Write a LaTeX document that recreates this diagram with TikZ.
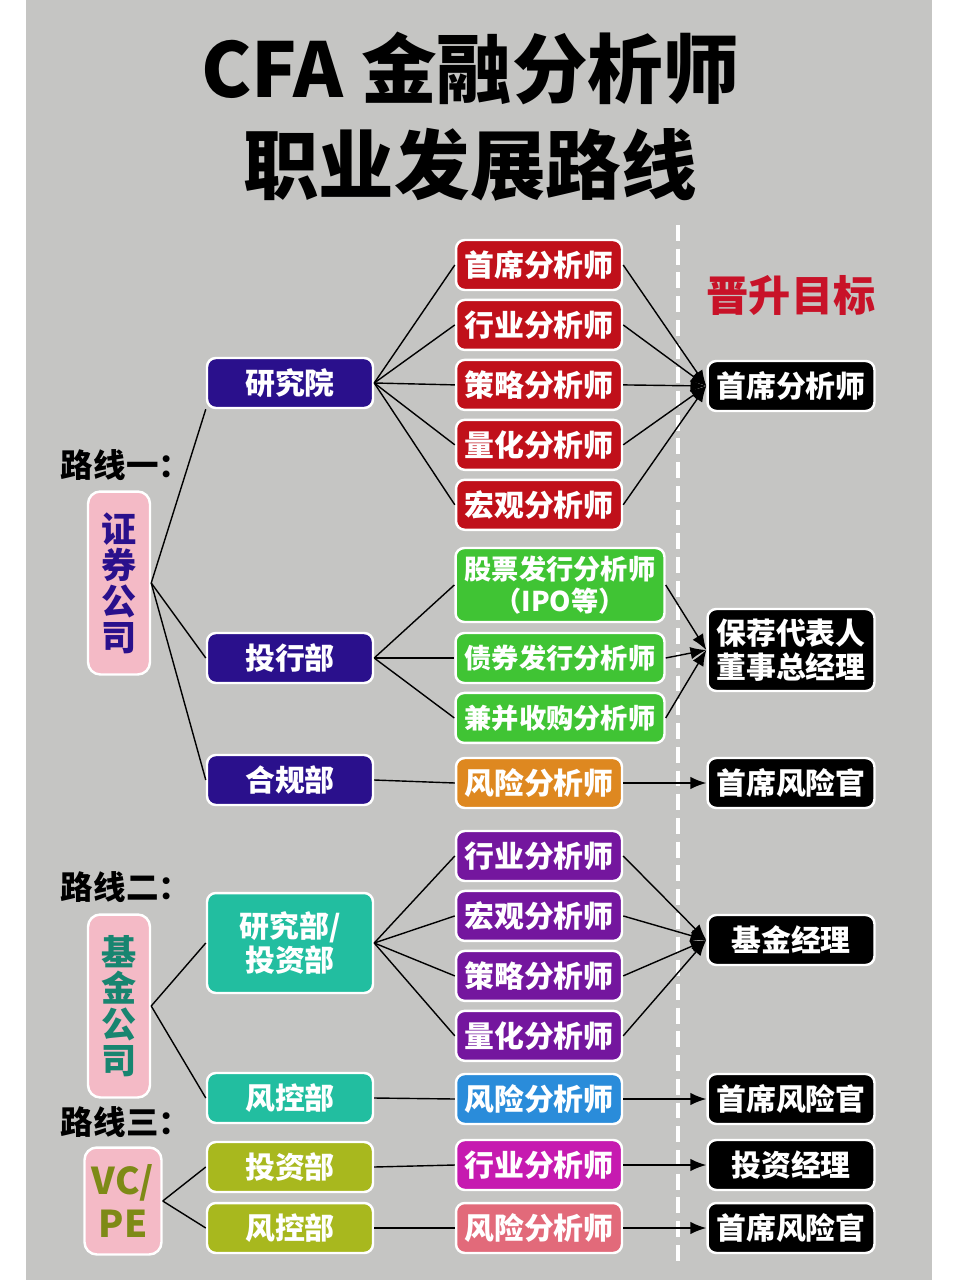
\documentclass[tikz,border=0pt]{standalone}
\usepackage{fontspec}
\setmainfont{Noto Sans CJK SC}
\usepackage{tikz}
\usetikzlibrary{arrows.meta, positioning}
\definecolor{pagegray}{RGB}{197,197,195}
\definecolor{deptnavy}{RGB}{42,16,140}
\definecolor{fundteal}{RGB}{34,190,160}
\definecolor{vcolive}{RGB}{168,184,30}
\definecolor{compink}{RGB}{244,186,198}
\definecolor{anared}{RGB}{192,16,26}
\definecolor{anagreen}{RGB}{64,196,52}
\definecolor{anaorange}{RGB}{222,136,32}
\definecolor{anapurple}{RGB}{116,22,158}
\definecolor{anablue}{RGB}{42,140,218}
\definecolor{anamagenta}{RGB}{198,26,176}
\definecolor{anapink}{RGB}{226,106,122}
\definecolor{goalred}{RGB}{200,18,40}

\begin{document}
\begin{tikzpicture}[
    x=0.02cm, y=-0.02cm,   % one unit = one pixel of the sheet
    node distance=0.15cm,
    box/.style={rectangle, rounded corners=5pt, draw=white, line width=1.4pt,
                minimum width=3.32cm, minimum height=1cm, inner sep=2pt,
                text=white, align=center, font=\fontsize{17}{19.5}\selectfont\bfseries},
    dept/.style={box, fill=deptnavy},
    fund/.style={box, fill=fundteal},
    vcdept/.style={box, fill=vcolive},
    ana/.style={box, fill=#1},
    wide/.style={box, fill=anagreen, minimum width=4.18cm, font=\fontsize{15.5}{18}\selectfont\bfseries},
    target/.style={box, fill=black, minimum width=3.34cm},
    company/.style={rectangle, rounded corners=7pt, draw=white, line width=1.4pt, fill=compink,
                    minimum width=1.24cm, minimum height=3.66cm, align=center,
                    font=\fontsize{20}{20.5}\selectfont\bfseries},
    route/.style={font=\fontsize{18.5}{20}\selectfont\bfseries, text=black},
    title/.style={font=\fontsize{43}{46}\selectfont\bfseries, text=black},
    link/.style={line width=0.8pt, black},
    arrow/.style={link, -{Latex[length=9pt, width=7pt]}}
]
\useasboundingbox (0,0) rectangle (960,1280);
\fill[white] (0,0) rectangle (960,1280);
\fill[pagegray] (26,0) rectangle (932,1280);

% heading
\node[title] (t1) at (470,68) {CFA 金融分析师};
\node[title] (t2) at (470,165) {职业发展路线};
\node[font=\fontsize{24}{26}\selectfont\bfseries, text=goalred] (goal) at (791,295) {晋升目标};

% divider
\coordinate (dtop) at (678,225);
\coordinate (dbot) at (678,1265);
\draw[white, line width=2.2pt, dash pattern=on 9pt off 4.5pt] (dtop) -- (dbot);

% companies
\node[route] (r1) at (126,465) {路线一：};
\node[company, text=deptnavy] (zq) at (119,583) {证\\券\\公\\司};
\node[route] (r2) at (126,887) {路线二：};
\node[company, text=fundteal!70!black] (jj) at (119,1006) {基\\金\\公\\司};
\node[route] (r3) at (126,1122) {路线三：};
\node[company, minimum width=1.54cm, minimum height=2.14cm, text=vcolive!75!black,
      font=\fontsize{21}{24}\selectfont\bfseries] (vc) at (123,1201) {VC/\\PE};

% departments
\node[dept] (yjy) at (290,383) {研究院};
\node[dept] (th) at (290,658) {投行部};
\node[dept] (hg) at (290,780) {合规部};
\node[fund, minimum height=2cm] (yjb) at (290,943) {研究部/\\投资部};
\node[fund] (fk1) at (290,1098) {风控部};
\node[vcdept] (tz) at (290,1167) {投资部};
\node[vcdept] (fk2) at (290,1228) {风控部};

% analysts
\node[ana=anared] (a1) at (539,265) {首席分析师};
\node[ana=anared, below=of a1] (a2) {行业分析师};
\node[ana=anared, below=of a2] (a3) {策略分析师};
\node[ana=anared, below=of a3] (a4) {量化分析师};
\node[ana=anared, below=of a4] (a5) {宏观分析师};
\node[wide, minimum height=1.48cm] (g1) at (560,585) {股票发行分析师\\（IPO等）};
\node[wide] (g2) at (560,658) {债券发行分析师};
\node[wide, below=of g2] (g3) {兼并收购分析师};
\node[ana=anaorange] (o1) at (539,783) {风险分析师};
\node[ana=anapurple] (p1) at (539,856) {行业分析师};
\node[ana=anapurple, below=of p1] (p2) {宏观分析师};
\node[ana=anapurple, below=of p2] (p3) {策略分析师};
\node[ana=anapurple, below=of p3] (p4) {量化分析师};
\node[ana=anablue] (b1) at (539,1099) {风险分析师};
\node[ana=anamagenta] (m1) at (539,1165) {行业分析师};
\node[ana=anapink] (k1) at (539,1228) {风险分析师};

% promotion targets
\node[target] (s1) at (791,386) {首席分析师};
\node[target, minimum height=1.64cm] (s2) at (791,650) {保荐代表人\\董事总经理};
\node[target] (s3) at (791,783) {首席风险官};
\node[target] (s4) at (791,940) {基金经理};
\node[target] (s5) at (791,1099) {首席风险官};
\node[target] (s6) at (791,1165) {投资经理};
\node[target] (s7) at (791,1228) {首席风险官};

% company -> department
\draw[link] (zq.east) -- (yjy.south west);
\draw[link] (zq.east) -- (th.west);
\draw[link] (zq.east) -- (hg.west);
\draw[link] (jj.east) -- (yjb.west);
\draw[link] (jj.east) -- (fk1.west);
\draw[link] (vc.east) -- (tz.west);
\draw[link] (vc.east) -- (fk2.west);

% department -> analyst
\draw[link] (yjy.east) -- (a1.west);
\draw[link] (yjy.east) -- (a2.west);
\draw[link] (yjy.east) -- (a3.west);
\draw[link] (yjy.east) -- (a4.west);
\draw[link] (yjy.east) -- (a5.west);
\draw[link] (th.east) -- (g1.west);
\draw[link] (th.east) -- (g2.west);
\draw[link] (th.east) -- (g3.west);
\draw[link] (hg.east) -- (o1.west);
\draw[link] (yjb.east) -- (p1.west);
\draw[link] (yjb.east) -- (p2.west);
\draw[link] (yjb.east) -- (p3.west);
\draw[link] (yjb.east) -- (p4.west);
\draw[link] (fk1.east) -- (b1.west);
\draw[link] (tz.east) -- (m1.west);
\draw[link] (fk2.east) -- (k1.west);

% analyst -> target
\draw[arrow] (a1.east) -- (s1.west);
\draw[arrow] (a2.east) -- (s1.west);
\draw[arrow] (a3.east) -- (s1.west);
\draw[arrow] (a4.east) -- (s1.west);
\draw[arrow] (a5.east) -- (s1.west);
\draw[arrow] (g1.east) -- (s2.west);
\draw[arrow] (g2.east) -- (s2.west);
\draw[arrow] (g3.east) -- (s2.west);
\draw[arrow] (o1.east) -- (s3.west);
\draw[arrow] (p1.east) -- (s4.west);
\draw[arrow] (p2.east) -- (s4.west);
\draw[arrow] (p3.east) -- (s4.west);
\draw[arrow] (p4.east) -- (s4.west);
\draw[arrow] (b1.east) -- (s5.west);
\draw[arrow] (m1.east) -- (s6.west);
\draw[arrow] (k1.east) -- (s7.west);

\end{tikzpicture}
\end{document}
